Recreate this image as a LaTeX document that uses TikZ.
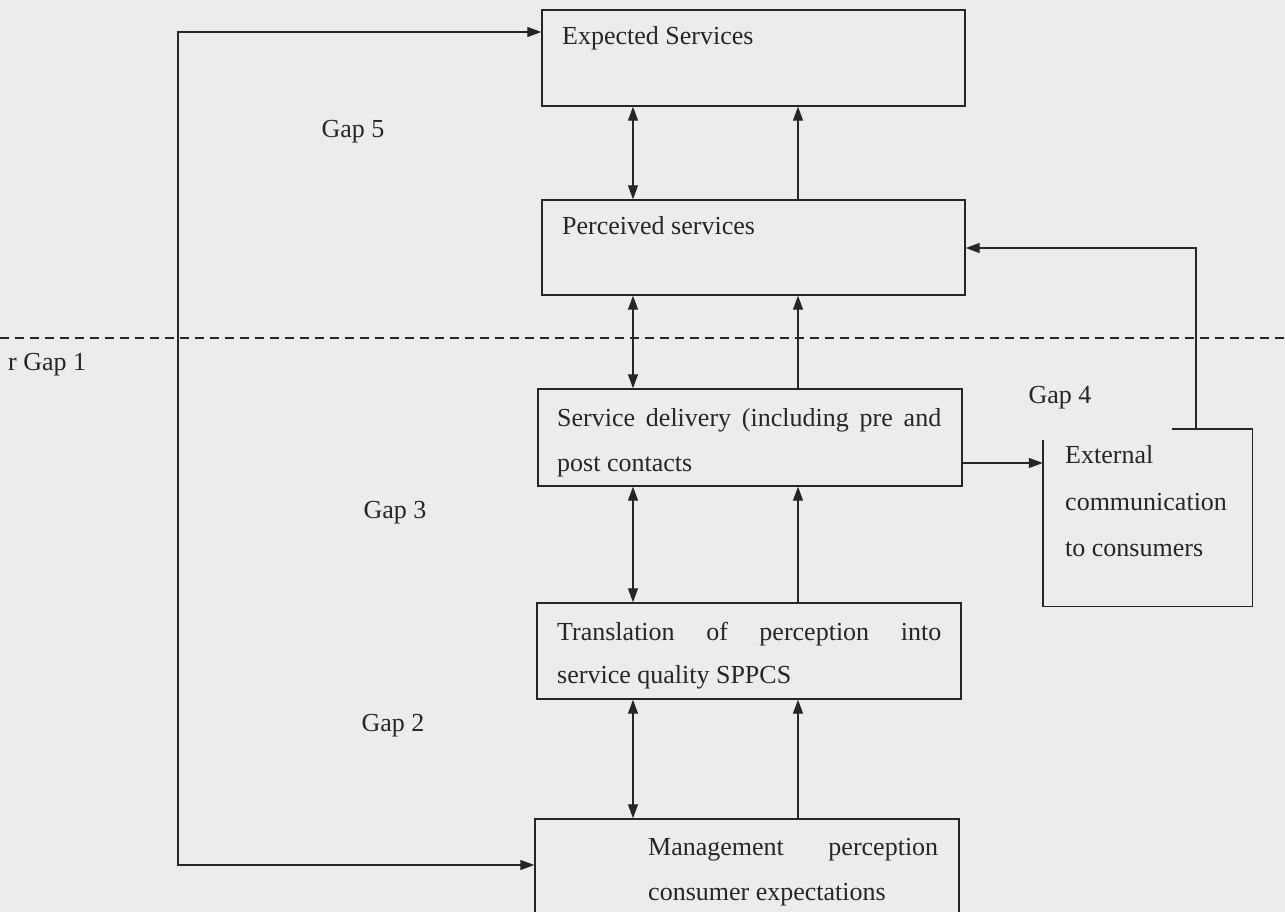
\documentclass[tikz,border=0pt]{standalone}
\usepackage{fontspec}
\setmainfont{Liberation Serif}
\usetikzlibrary{arrows.meta,calc}
\definecolor{paper}{RGB}{236,236,236}
\definecolor{ink}{RGB}{38,38,38}
\begin{document}
\begin{tikzpicture}[x=1pt,y=-1pt,
  box/.style={draw=ink, line width=1.4pt, inner sep=0pt, rectangle},
  conn/.style={draw=ink, line width=1.3pt, -{Triangle[length=14pt,width=10pt]}},
  both/.style={draw=ink, line width=1.3pt, {Triangle[length=14pt,width=10pt]}-{Triangle[length=14pt,width=10pt]}},
  lbl/.style={text=ink, font=\fontsize{26pt}{30pt}\selectfont, inner sep=0pt, anchor=base west},
  gap/.style={lbl, anchor=base}
]
\useasboundingbox (0,0) rectangle (1285,912);
\fill[paper] (0,0) rectangle (1285,912);

% boxes
\node[box, minimum width=423pt, minimum height=96pt] (E) at (753.5,58) {};
\node[box, minimum width=423pt, minimum height=95pt] (P) at (753.5,247.5) {};
\node[box, minimum width=424pt, minimum height=97pt] (S) at (750,437.5) {};
\node[box, minimum width=424pt, minimum height=96pt] (T) at (749,651) {};
\node[box, minimum width=424pt, minimum height=97pt] (M) at (747,867.5) {};
\node[inner sep=0pt, minimum width=209pt, minimum height=177pt] (X) at (1147.5,517.5) {};
\draw[draw=ink, line width=1.4pt] ($(X.north west)+(0,11)$) -- (X.south west) -- (X.south east) -- (X.north east) -- ($(X.north east)+(-80,0)$);

% texts
\node[lbl] (e1) at (562,45) {Expected Services};
\node[lbl] (p1) at (562,235) {Perceived services};
\node[lbl] (s1) at (557,426) {\makebox[384pt][s]{Service delivery (including pre and}};
\node[lbl] (s2) at (557,471) {post contacts};
\node[lbl] (t1) at (557,640) {\makebox[384pt][s]{Translation of perception into}};
\node[lbl] (t2) at (557,683) {service quality SPPCS};
\node[lbl] (m1) at (648,855) {\makebox[290pt][s]{Management perception}};
\node[lbl] (m2) at (648,900) {consumer expectations};
\node[lbl] (x1) at (1065,463) {External};
\node[lbl] (x2) at (1065,510) {communication};
\node[lbl] (x3) at (1065,556) {to consumers};

\node[gap] (g5) at (353,138) {Gap 5};
\node[gap] (g3) at (395,518) {Gap 3};
\node[gap] (g2) at (393,731) {Gap 2};
\node[gap] (g4) at (1060,403) {Gap 4};
\node[lbl] (g1) at (8,370) {r Gap 1};

% dashed divider
\coordinate (dl) at (0,338);
\coordinate (dr) at (1285,338);
\draw[ink, line width=1.2pt, dash pattern=on 9pt off 6pt] (dl) -- (dr);

% vertical connectors
\coordinate (dx) at (633,0);
\coordinate (ux) at (798,0);
\draw[both] (dx |- E.south) -- (dx |- P.north);
\draw[both] (dx |- P.south) -- (dx |- S.north);
\draw[both] (dx |- S.south) -- (dx |- T.north);
\draw[both] (dx |- T.south) -- (dx |- M.north);
\draw[conn] (ux |- P.north) -- (ux |- E.south);
\draw[conn] (ux |- S.north) -- (ux |- P.south);
\draw[conn] (ux |- T.north) -- (ux |- S.south);
\draw[conn] (ux |- M.north) -- (ux |- T.south);

% left loop
\coordinate (Lt) at (178,32);
\coordinate (Lb) at (178,865);
\draw[both] (Lt -| E.west) -- (Lt) -- (Lb) -- (Lb -| M.west);

% service delivery to external communication
\coordinate (sy) at (0,463);
\draw[conn] (S.east |- sy) -- (X.west |- sy);

% external communication to perceived services
\coordinate (xp) at (1196,248);
\draw[conn] (xp |- X.north) -- (xp) -- (xp -| P.east);
\end{tikzpicture}
\end{document}
